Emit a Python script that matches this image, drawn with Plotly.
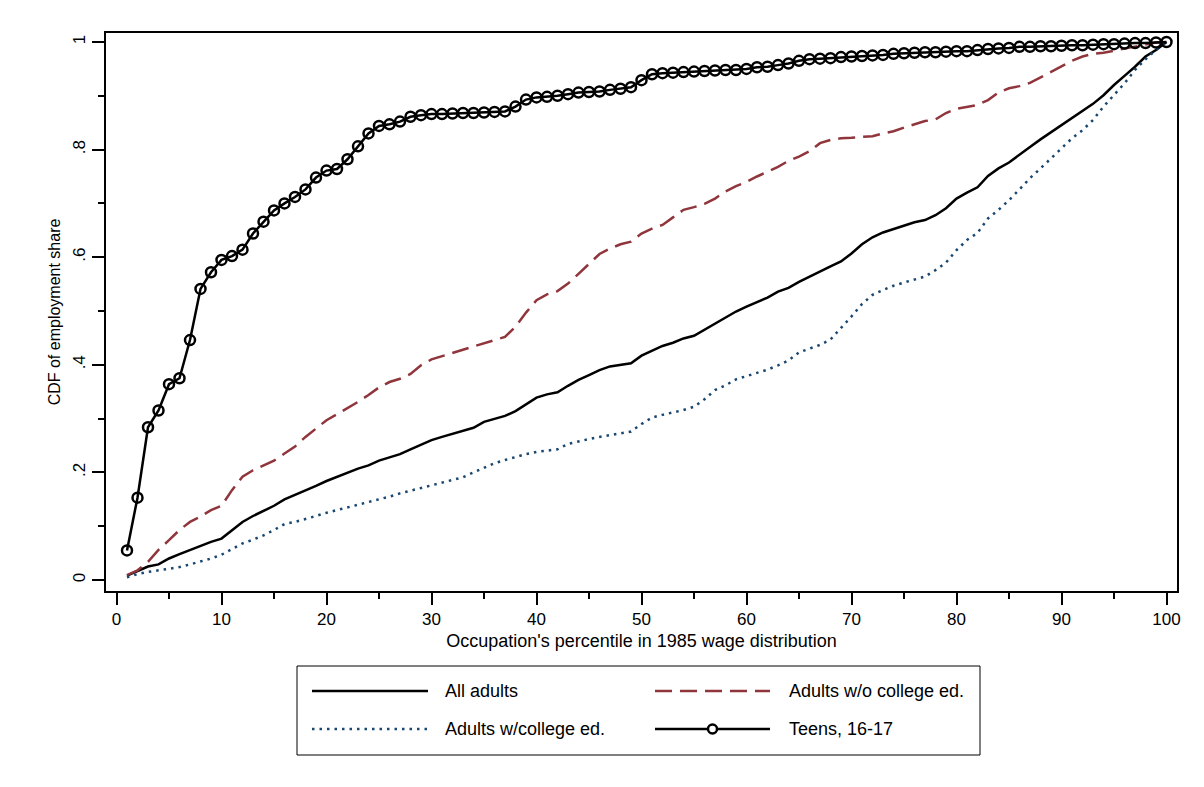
import plotly.graph_objects as go

percentile = list(range(1, 101))

all_adults = [
    0.008, 0.017, 0.025, 0.029, 0.040, 0.048, 0.056, 0.064, 0.071, 0.077,
    0.093, 0.108, 0.119, 0.128, 0.138, 0.150, 0.158, 0.166, 0.175, 0.184,
    0.192, 0.200, 0.207, 0.213, 0.222, 0.228, 0.234, 0.243, 0.252, 0.260,
    0.266, 0.272, 0.278, 0.283, 0.294, 0.300, 0.305, 0.314, 0.327, 0.339,
    0.345, 0.349, 0.361, 0.372, 0.381, 0.390, 0.397, 0.400, 0.403, 0.417,
    0.426, 0.435, 0.441, 0.449, 0.454, 0.465, 0.476, 0.488, 0.499, 0.508,
    0.517, 0.525, 0.536, 0.543, 0.554, 0.564, 0.574, 0.583, 0.592, 0.607,
    0.624, 0.637, 0.646, 0.652, 0.658, 0.665, 0.669, 0.678, 0.691, 0.709,
    0.720, 0.730, 0.751, 0.765, 0.776, 0.791, 0.805, 0.819, 0.832, 0.846,
    0.859, 0.872, 0.885, 0.901, 0.920, 0.937, 0.954, 0.973, 0.985, 1.000,
]

no_college = [
    0.009, 0.018, 0.034, 0.056, 0.074, 0.093, 0.108, 0.118, 0.130, 0.138,
    0.167, 0.192, 0.204, 0.213, 0.222, 0.235, 0.248, 0.266, 0.282, 0.297,
    0.308, 0.319, 0.331, 0.344, 0.358, 0.368, 0.374, 0.383, 0.399, 0.410,
    0.416, 0.421, 0.428, 0.434, 0.440, 0.446, 0.452, 0.471, 0.497, 0.520,
    0.531, 0.537, 0.551, 0.569, 0.587, 0.606, 0.616, 0.624, 0.629, 0.644,
    0.653, 0.660, 0.674, 0.688, 0.693, 0.699, 0.709, 0.722, 0.732, 0.740,
    0.750, 0.759, 0.768, 0.779, 0.787, 0.797, 0.812, 0.818, 0.821, 0.822,
    0.823, 0.825, 0.830, 0.834, 0.841, 0.847, 0.853, 0.856, 0.868, 0.876,
    0.879, 0.883, 0.892, 0.906, 0.914, 0.918, 0.924, 0.934, 0.944, 0.955,
    0.965, 0.973, 0.978, 0.980, 0.984, 0.988, 0.992, 0.996, 0.999, 1.000,
]

college = [
    0.005, 0.011, 0.015, 0.018, 0.022, 0.024, 0.029, 0.034, 0.040, 0.047,
    0.058, 0.068, 0.075, 0.083, 0.093, 0.104, 0.108, 0.113, 0.119, 0.125,
    0.130, 0.135, 0.139, 0.145, 0.150, 0.155, 0.161, 0.166, 0.170, 0.175,
    0.181, 0.186, 0.191, 0.200, 0.208, 0.217, 0.223, 0.229, 0.234, 0.238,
    0.240, 0.243, 0.253, 0.258, 0.262, 0.266, 0.269, 0.273, 0.276, 0.290,
    0.302, 0.307, 0.311, 0.316, 0.322, 0.336, 0.353, 0.362, 0.373, 0.379,
    0.385, 0.391, 0.399, 0.408, 0.423, 0.430, 0.437, 0.447, 0.468, 0.490,
    0.513, 0.530, 0.539, 0.547, 0.553, 0.559, 0.564, 0.576, 0.590, 0.613,
    0.632, 0.645, 0.672, 0.688, 0.706, 0.726, 0.747, 0.765, 0.784, 0.802,
    0.821, 0.836, 0.855, 0.880, 0.901, 0.923, 0.948, 0.968, 0.985, 1.000,
]

teens = [
    0.055, 0.153, 0.284, 0.315, 0.364, 0.375, 0.446, 0.541, 0.572, 0.595,
    0.602, 0.614, 0.644, 0.666, 0.687, 0.700, 0.712, 0.726, 0.748, 0.761,
    0.764, 0.782, 0.806, 0.830, 0.844, 0.847, 0.852, 0.861, 0.864, 0.866,
    0.866, 0.867, 0.868, 0.868, 0.869, 0.870, 0.871, 0.880, 0.893, 0.897,
    0.898, 0.900, 0.903, 0.906, 0.907, 0.908, 0.911, 0.913, 0.916, 0.929,
    0.940, 0.942, 0.943, 0.944, 0.945, 0.946, 0.947, 0.948, 0.948, 0.950,
    0.953, 0.954, 0.957, 0.960, 0.965, 0.968, 0.969, 0.970, 0.972, 0.973,
    0.974, 0.975, 0.976, 0.978, 0.979, 0.980, 0.981, 0.981, 0.982, 0.983,
    0.983, 0.985, 0.987, 0.988, 0.989, 0.991, 0.991, 0.992, 0.992, 0.993,
    0.994, 0.994, 0.995, 0.996, 0.996, 0.997, 0.998, 0.998, 0.999, 1.000,
]

x_ticks = [0, 10, 20, 30, 40, 50, 60, 70, 80, 90, 100]
y_ticks = [0, 0.2, 0.4, 0.6, 0.8, 1.0]
y_tick_labels = ["0", ".2", ".4", ".6", ".8", "1"]

series_names = ["All adults", "Adults w/o college ed.", "Adults w/college ed.", "Teens, 16-17"]
x_title = "Occupation's percentile in 1985 wage distribution"
y_title = "CDF of employment share"

BLACK = "#000000"
MAROON = "#90353b"
NAVY = "#1a476f"
DASH = "17px,8px"
DOT = "2.5px,5px"
FONT = "Liberation Sans, Arial, sans-serif"

# page body margin offsets the figure by 8px
OFF = 8
W, H = 1204 - 2 * OFF, 787 - 2 * OFF
# plot frame in screen coordinates: x 106..1177, y 33..591
L = 106 - OFF
T = 33 - OFF
R = W - (1177 - OFF)
B = H - (591 - OFF)
PW, PH = W - L - R, H - T - B


def px(x):
    return (x - OFF - L) / PW


def py(y):
    return (H - B - (y - OFF)) / PH


fig = go.Figure()
fig.add_trace(go.Scatter(x=percentile, y=all_adults, mode="lines", name=series_names[0],
                         line=dict(color=BLACK, width=2.5)))
fig.add_trace(go.Scatter(x=percentile, y=no_college, mode="lines", name=series_names[1],
                         line=dict(color=MAROON, width=2.5, dash=DASH)))
fig.add_trace(go.Scatter(x=percentile, y=college, mode="lines", name=series_names[2],
                         line=dict(color=NAVY, width=2.5, dash=DOT)))
fig.add_trace(go.Scatter(x=percentile, y=teens, mode="lines+markers", name=series_names[3],
                         line=dict(color=BLACK, width=2.5),
                         marker=dict(symbol="circle-open", size=10, color=BLACK,
                                     line=dict(color=BLACK, width=2.5))))

shapes = []
annotations = []

# legend box
shapes.append(dict(type="rect", xref="paper", yref="paper",
                   x0=px(297), x1=px(980), y0=py(666), y1=py(755),
                   line=dict(color=BLACK, width=1)))

row1, row2 = 691, 729
c1a, c1b = 312, 428
c2a, c2b = 655, 770
legend_samples = [
    (c1a, c1b, row1, BLACK, "solid"),
    (c2a, c2b, row1, MAROON, DASH),
    (c1a, c1b, row2, NAVY, DOT),
    (c2a, c2b, row2, BLACK, "solid"),
]
for xa, xb, yy, col, dsh in legend_samples:
    shapes.append(dict(type="line", xref="paper", yref="paper",
                       x0=px(xa), x1=px(xb), y0=py(yy), y1=py(yy),
                       line=dict(color=col, width=2.5, dash=dsh)))
mx = (c2a + c2b) / 2
shapes.append(dict(type="circle", xref="paper", yref="paper",
                   xsizemode="pixel", ysizemode="pixel",
                   xanchor=px(mx), yanchor=py(row2),
                   x0=-4.5, x1=4.5, y0=-4.5, y1=4.5,
                   line=dict(color=BLACK, width=2.5), fillcolor="white"))

legend_text = [
    (443, row1, series_names[0]),
    (787, row1, series_names[1]),
    (443, row2, series_names[2]),
    (787, row2, series_names[3]),
]
for xx, yy, txt in legend_text:
    annotations.append(dict(x=px(xx), y=py(yy), xref="paper", yref="paper",
                            text=txt, showarrow=False, xanchor="left", yanchor="middle",
                            font=dict(family=FONT, size=18, color=BLACK)))

fig.update_layout(
    width=W, height=H,
    margin=dict(l=L, r=R, t=T, b=B, pad=0),
    paper_bgcolor="white", plot_bgcolor="white",
    showlegend=False,
    font=dict(family=FONT, color=BLACK),
    shapes=shapes,
    annotations=annotations,
)

fig.update_xaxes(
    range=[-1, 101], tickvals=x_ticks, ticktext=[str(v) for v in x_ticks],
    showgrid=False, zeroline=False,
    showline=True, mirror=True, linecolor=BLACK, linewidth=1.5,
    ticks="outside", ticklen=12, tickwidth=1.5, tickcolor=BLACK,
    tickfont=dict(family=FONT, size=17, color=BLACK),
    minor=dict(dtick=5, tick0=0, ticks="outside", ticklen=6, tickwidth=1.5, tickcolor=BLACK, showgrid=False),
    title=dict(text=x_title, font=dict(family=FONT, size=18, color=BLACK), standoff=6),
)
fig.update_yaxes(
    range=[-0.0204, 1.0167], tickvals=y_ticks, ticktext=y_tick_labels,
    showgrid=False, zeroline=False,
    showline=True, mirror=True, linecolor=BLACK, linewidth=1.5,
    ticks="outside", ticklen=12, tickwidth=1.5, tickcolor=BLACK,
    tickangle=-90,
    tickfont=dict(family=FONT, size=17, color=BLACK),
    minor=dict(dtick=0.1, tick0=0, ticks="outside", ticklen=6, tickwidth=1.5, tickcolor=BLACK, showgrid=False),
    title=dict(text=y_title, font=dict(family=FONT, size=16, color=BLACK), standoff=6),
)

fig.write_html("out.html")
